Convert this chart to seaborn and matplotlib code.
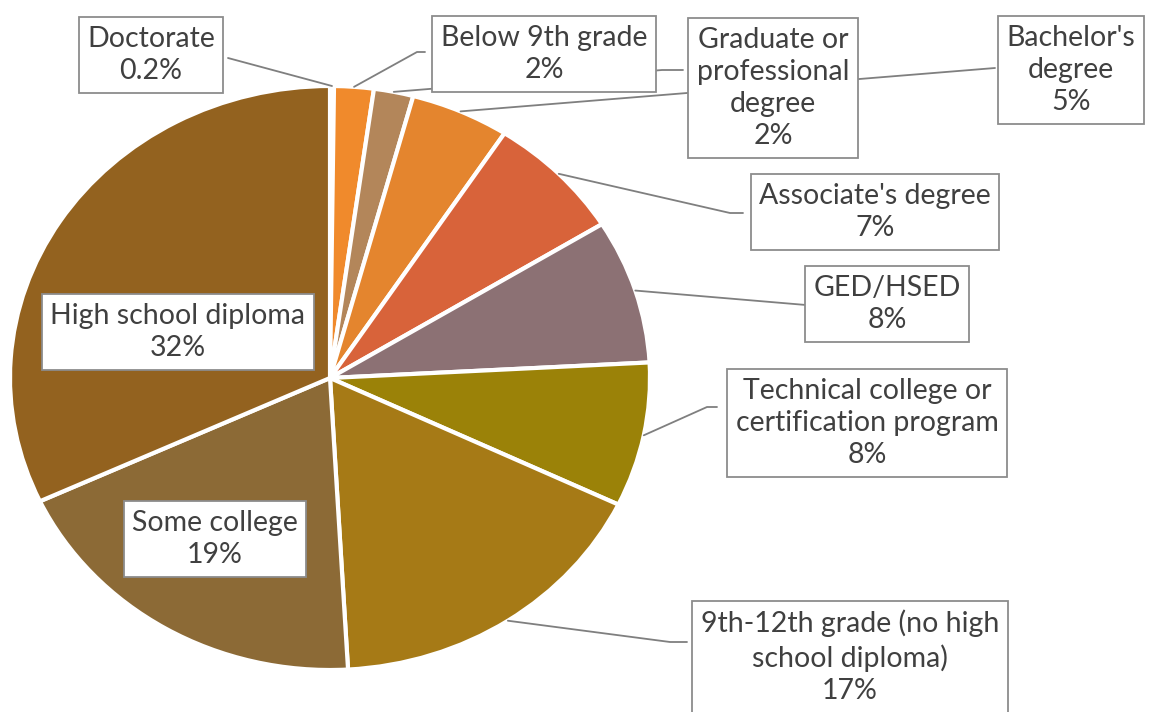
import matplotlib
matplotlib.use("Agg")
import matplotlib.pyplot as plt
import numpy as np
import seaborn as sns

# Education level shares (percent), clockwise from 12 o'clock
categories = [
    "Doctorate",
    "Below 9th grade",
    "Graduate or\nprofessional\ndegree",
    "Bachelor's\ndegree",
    "Associate's degree",
    "GED/HSED",
    "Technical college or\ncertification program",
    "9th-12th grade (no high\nschool diploma)",
    "Some college",
    "High school diploma",
]
shares = [0.2, 2, 2, 5, 7, 8, 8, 17, 19, 32]
colors = ["#C0662A", "#F08A2C", "#B3865A", "#E4852E", "#D8633A",
          "#8C7174", "#9B8208", "#A67A16", "#8C6A36", "#93621F"]

sns.set_theme(style="white")
plt.rcParams["font.family"] = ["Lato", "DejaVu Sans"]

W, H = 1149, 712
fig = plt.figure(figsize=(W / 100, H / 100), dpi=100)
ax = fig.add_axes([0, 0, 1, 1])

# pie geometry in pixels (drawn as an ellipse: unit circle stretched)
cx, cy, rx, ry = 330, 378, 320, 292


def px(x, y):
    """Pixel position (from top-left) to data coordinates."""
    return (x - cx) / rx, (cy - y) / ry


wedges, _ = ax.pie(shares, colors=colors, startangle=90, counterclock=False,
                   radius=1, center=(0, 0),
                   wedgeprops=dict(edgecolor="white", linewidth=3))

ax.set_aspect("auto")
ax.set_xlim(-cx / rx, (W - cx) / rx)
ax.set_ylim(-(H - cy) / ry, cy / ry)
ax.axis("off")

# label box centre and leader route (elbow, box attachment) in pixels
layout = [
    ((151, 55), None, (228, 58)),
    ((544, 54), (417, 52), (425, 52)),
    ((773, 88), (662, 70), (683, 70)),
    ((1071, 70), None, (995, 68)),
    ((875, 212), (730, 213), (743, 213)),
    ((887, 304), None, (806, 305)),
    ((867, 423), (707, 407), (717, 407)),
    ((850, 657), (670, 642), (687, 642)),
    ((215, 539), None, None),
    ((178, 332), None, None),
]

line_col = "#7F7F7F"
for w, name, val, (ctr, elbow, attach) in zip(wedges, categories, shares, layout):
    label = f"{name}\n{val:g}%"
    if attach is not None:
        mid = np.deg2rad((w.theta1 + w.theta2) / 2)
        start = (np.cos(mid), np.sin(mid))
        pts = [start]
        if elbow is not None:
            pts.append(px(*elbow))
        pts.append(px(*attach))
        xs, ys = zip(*pts)
        ax.plot(xs, ys, color=line_col, lw=1.3, zorder=3)
    tx, ty = px(*ctr)
    ax.text(tx, ty, label, ha="center", va="center", fontsize=20.5,
            color="#404040", linespacing=1.3, zorder=5,
            bbox=dict(boxstyle="square,pad=0.3", fc="white",
                      ec="#8C8C8C", lw=1.3))

fig.savefig("out.png", dpi=100, facecolor="white")
